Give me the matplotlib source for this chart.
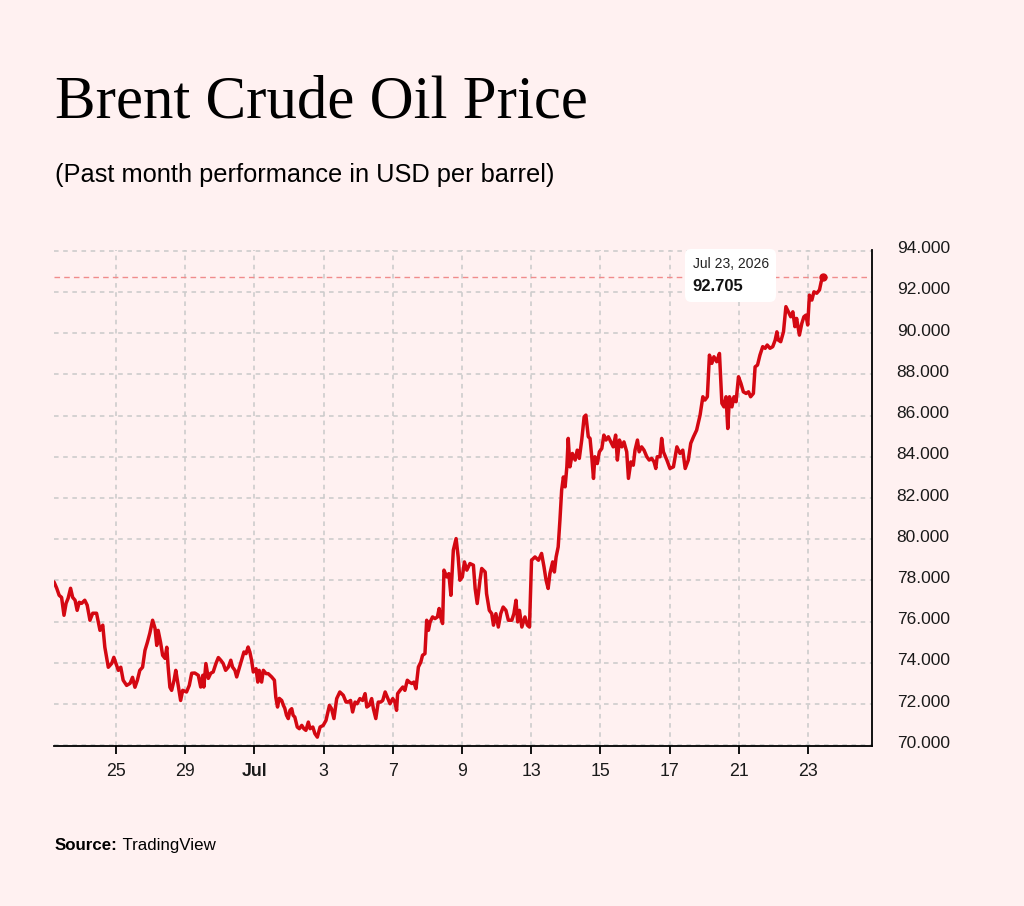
import matplotlib
matplotlib.use('Agg')
import matplotlib.pyplot as plt
from matplotlib.offsetbox import TextArea, VPacker, AnnotationBbox
from matplotlib.patches import Polygon
from matplotlib import transforms

plt.rcParams['font.family'] = ['Liberation Sans', 'DejaVu Sans']

# ---------------- data ----------------
# time in trading days since the Jun 23 session start (weekends compressed)
day_offset = [
    0.21, 0.29, 0.36, 0.43, 0.50, 0.56, 0.62, 0.69, 0.75, 0.82,
    0.88, 0.94, 1.01, 1.10, 1.17, 1.25, 1.33, 1.44, 1.54, 1.62,
    1.68, 1.78, 1.88, 1.94, 2.00, 2.07, 2.14, 2.21, 2.31, 2.41,
    2.48, 2.55, 2.62, 2.69, 2.77, 2.84, 2.91, 2.98, 3.06, 3.13,
    3.18, 3.22, 3.29, 3.35, 3.42, 3.47, 3.51, 3.56, 3.61, 3.68,
    3.73, 3.80, 3.87, 3.93,
    4.04, 4.12, 4.19, 4.28, 4.38, 4.45, 4.51, 4.54, 4.60, 4.67,
    4.74, 4.81, 4.89, 4.96, 5.03, 5.10, 5.17, 5.25, 5.32, 5.37,
    5.44, 5.49, 5.56, 5.63, 5.70, 5.76, 5.82, 5.87, 5.92, 5.97,
    6.05, 6.10, 6.14, 6.21, 6.26, 6.34, 6.40, 6.50, 6.58, 6.62,
    6.67, 6.72, 6.79, 6.84, 6.88, 6.93, 6.98, 7.03, 7.08, 7.12,
    7.17, 7.24, 7.30, 7.37, 7.43, 7.49, 7.56, 7.61, 7.69, 7.75,
    7.82,
    7.90, 7.99, 8.07, 8.17, 8.23, 8.30, 8.38, 8.47, 8.57, 8.65,
    8.71, 8.78, 8.84, 8.91, 8.97, 9.05, 9.13, 9.20, 9.25, 9.32,
    9.39, 9.44, 9.51, 9.58, 9.65, 9.71, 9.78, 9.84, 9.92, 10.00,
    10.06, 10.11, 10.14, 10.21, 10.29, 10.35, 10.42, 10.48, 10.55, 10.61,
    10.67, 10.74, 10.81, 10.86, 10.93, 10.98, 11.03, 11.08, 11.15, 11.22,
    11.29, 11.34, 11.38, 11.44,
    11.48, 11.56, 11.62, 11.68, 11.75, 11.83, 11.89, 11.94, 12.01, 12.07,
    12.14, 12.23, 12.33, 12.38, 12.44, 12.52, 12.57, 12.67, 12.71, 12.79,
    12.86, 12.91, 12.98, 13.05, 13.12, 13.19, 13.27, 13.34, 13.44, 13.50,
    13.56, 13.61, 13.66, 13.73, 13.82, 13.89, 13.95, 14.01, 14.11, 14.21,
    14.30, 14.37, 14.43, 14.49, 14.54, 14.62, 14.67, 14.72, 14.78, 14.83,
    14.88, 14.93, 14.98, 15.03, 15.07, 15.12, 15.19, 15.27, 15.33, 15.39,
    15.46, 15.53, 15.58, 15.65, 15.70, 15.75, 15.80, 15.84, 15.91, 15.97,
    16.04, 16.10, 16.16, 16.23, 16.30, 16.37, 16.44, 16.49, 16.55, 16.62,
    16.68, 16.76, 16.81, 16.88, 16.95, 17.00, 17.07, 17.12, 17.19, 17.26,
    17.34, 17.41, 17.48, 17.55, 17.60, 17.64, 17.72,
    17.77, 17.82, 17.92, 18.01, 18.11, 18.21, 18.30, 18.38, 18.45, 18.54,
    18.61, 18.69, 18.78, 18.88, 18.96, 19.02, 19.09, 19.15, 19.22, 19.28,
    19.36, 19.44, 19.51, 19.57, 19.63, 19.68, 19.73, 19.80, 19.86, 19.92,
    19.99, 20.06, 20.13, 20.21, 20.28, 20.34, 20.42, 20.47, 20.54, 20.61,
    20.69, 20.76, 20.82, 20.90, 20.98, 21.05, 21.10, 21.14, 21.21, 21.29,
    21.36, 21.43, 21.50, 21.56, 21.62, 21.67, 21.75, 21.82, 21.88, 21.94,
    21.99, 22.04, 22.11, 22.17, 22.25, 22.33, 22.38, 22.43,
]

price = [
    77.93, 77.62, 77.28, 77.18, 76.31, 76.89, 77.14, 77.62, 77.18, 77.04,
    76.55, 76.94, 76.89, 77.04, 76.80, 76.07, 76.41, 76.41, 75.58, 75.83,
    74.76, 73.79, 73.98, 74.27, 73.98, 73.64, 73.79, 73.16, 72.91, 73.01,
    73.30, 72.82, 73.16, 73.64, 73.79, 74.61, 75.00, 75.44, 76.07, 75.68,
    74.85, 75.58, 75.00, 74.37, 74.22, 74.76, 73.79, 72.82, 72.67, 73.16,
    73.64, 72.91, 72.18, 72.67,
    72.59, 72.91, 73.50, 73.51, 73.40, 72.83, 73.40, 72.83, 73.97, 73.25,
    73.50, 73.56, 73.97, 74.26, 74.13, 73.97, 73.64, 73.80, 74.13, 73.80,
    73.64, 73.32, 73.72, 74.13, 74.53, 74.45, 74.77, 74.53, 74.13, 73.56,
    73.72, 73.07, 73.64, 73.07, 73.64, 73.48, 73.48, 73.32, 73.16, 72.34,
    71.86, 72.28, 72.18, 71.94, 71.80, 71.46, 71.30, 71.70, 71.78, 71.46,
    71.37, 70.89, 70.81, 70.97, 70.81, 70.73, 71.13, 70.81, 70.89, 70.57,
    70.40,
    70.89, 70.97, 71.21, 71.94, 71.78, 71.30, 72.27, 72.59, 72.43, 72.10,
    72.10, 72.18, 71.62, 72.10, 72.02, 72.27, 72.18, 72.51, 71.86, 71.94,
    72.27, 71.78, 71.30, 72.10, 72.10, 72.18, 72.59, 72.34, 72.02, 72.27,
    72.10, 71.70, 72.51, 72.67, 72.83, 72.67, 73.16, 73.07, 73.00, 73.07,
    72.75, 73.80, 74.04, 74.37, 74.45, 76.07, 75.58, 75.99, 76.23, 76.15,
    76.23, 76.64, 76.23, 75.91,
    78.50, 78.17, 78.33, 77.28, 79.47, 80.03, 79.14, 78.01, 78.17, 78.90,
    78.50, 78.82, 78.74, 77.61, 76.88, 78.01, 78.58, 78.41, 77.36, 76.55,
    76.39, 75.83, 76.39, 75.74, 76.39, 76.71, 76.55, 76.07, 76.07, 76.39,
    77.04, 75.99, 76.55, 75.74, 76.23, 75.83, 75.74, 78.98, 79.14, 78.98,
    79.31, 78.66, 78.01, 77.61, 78.33, 78.90, 78.41, 79.14, 79.63, 80.92,
    82.38, 83.02, 82.54, 83.51, 84.89, 83.51, 84.16, 83.84, 84.32, 83.92,
    84.81, 85.94, 86.02, 84.97, 84.89, 84.00, 82.95, 84.00, 83.67, 84.24,
    84.40, 85.05, 84.81, 84.97, 84.72, 84.48, 85.05, 83.84, 84.81, 84.48,
    84.72, 84.24, 82.95, 83.75, 83.59, 84.32, 84.81, 84.24, 84.48, 84.32,
    84.00, 83.84, 83.92, 83.75, 83.43, 84.00, 84.00,
    84.89, 84.24, 83.84, 83.43, 83.51, 84.48, 84.16, 84.32, 83.43, 83.84,
    84.65, 84.97, 85.29, 86.02, 86.91, 86.75, 86.91, 88.93, 88.53, 88.85,
    88.61, 89.01, 86.59, 86.42, 86.91, 85.37, 86.91, 86.42, 86.91, 86.67,
    87.88, 87.56, 87.15, 87.07, 87.15, 86.91, 87.07, 88.36, 88.45, 88.93,
    89.34, 89.26, 89.42, 89.26, 89.34, 89.66, 90.06, 89.66, 89.58, 90.06,
    91.28, 91.03, 90.79, 91.03, 90.31, 90.71, 89.90, 90.47, 90.79, 90.87,
    90.39, 91.84, 91.60, 92.00, 91.93, 92.09, 92.49, 92.705,
]

tick_days = [2, 4, 6, 8, 10, 12, 14, 16, 18, 20, 22]
tick_labels = ['25', '29', 'Jul', '3', '7', '9', '13', '15', '17', '21', '23']
bold_labels = ['Jul']
y_ticks = [70, 72, 74, 76, 78, 80, 82, 84, 86, 88, 90, 92, 94]
last_date_label = 'Jul 23, 2026'

title = 'Brent Crude Oil Price'
subtitle = '(Past month performance in USD per barrel)'
source_bold = 'Source:'
source_text = ' TradingView'

# ---------------- style ----------------
BG = '#FFF1F1'
RED = '#D40812'
GRID = '#C9C9C9'
TXT = '#1A1A1A'

fig = plt.figure(figsize=(10.24, 9.06), dpi=100, facecolor=BG)
ax = fig.add_axes([0.0527, 0.1766, 0.7986, 0.5475], facecolor=BG)

n = min(len(day_offset), len(price))
ax.plot(day_offset[:n], price[:n], color=RED, lw=2.5,
        solid_joinstyle='round', solid_capstyle='round', zorder=3)

last_t, last_p = day_offset[n - 1], price[n - 1]
ax.axhline(last_p, color='#F08C8C', lw=1, ls=(0, (4, 3)), zorder=2)
ax.plot([last_t], [last_p], 'o', color=RED, ms=5, zorder=4)

ax.set_xlim(0.21, 23.84)
ax.set_ylim(69.97, 94.03)

ax.set_xticks(tick_days)
ax.set_xticklabels(tick_labels)
for lab in ax.get_xticklabels():
    if lab.get_text() in bold_labels:
        lab.set_fontweight('bold')
ax.tick_params(axis='x', direction='out', length=6, width=1.3,
               color='black', pad=6.5, labelsize=12.8, labelcolor=TXT)

ax.set_yticks(y_ticks)
ax.set_yticklabels([f'{v:.3f}' for v in y_ticks])
ax.yaxis.tick_right()
ax.tick_params(axis='y', length=0, pad=18, labelsize=12.5, labelcolor=TXT)
off = transforms.ScaledTranslation(0, 2.5 / 72, fig.dpi_scale_trans)
for lab in ax.get_yticklabels():
    lab.set_transform(lab.get_transform() + off)

ax.grid(True, color=GRID, lw=1.1, ls=(0, (3, 3)))
ax.set_axisbelow(True)

for s in ['left', 'top']:
    ax.spines[s].set_visible(False)
for s in ['right', 'bottom']:
    ax.spines[s].set_linewidth(1.3)
    ax.spines[s].set_color('black')

# tooltip
ta1 = TextArea(last_date_label, textprops=dict(fontsize=10, color='#222222'))
ta2 = TextArea(f'{last_p:.3f}', textprops=dict(fontsize=12, fontweight='bold',
                                                color='#111111'))
vp = VPacker(children=[ta1, ta2], align='left', pad=0, sep=6)
ab = AnnotationBbox(vp, (last_t, last_p), xybox=(-39, 1.5), xycoords='data',
                    boxcoords='offset points', box_alignment=(1, 0.5),
                    frameon=True,
                    bboxprops=dict(boxstyle='round,pad=0.55,rounding_size=0.45',
                                   fc='white', ec='none'),
                    zorder=5)
ax.add_artist(ab)
# small pointer on the right of the tooltip
ptr_trans = fig.dpi_scale_trans + transforms.ScaledTranslation(
    last_t, last_p, ax.transData)
ax.add_patch(Polygon([(-0.622, 0.075), (-0.565, 0.021), (-0.622, -0.033)],
                     closed=True, fc='white', ec='none', zorder=5,
                     transform=ptr_trans, clip_on=False))

# texts
fig.text(55 / 1024, 1 - 118 / 906, title, fontsize=43.8,
         family=['Liberation Serif', 'DejaVu Serif'], color='black',
         va='baseline', ha='left')
fig.text(55 / 1024, 1 - 182 / 906, subtitle, fontsize=18.3, color='black',
         va='baseline', ha='left')
t1 = fig.text(55 / 1024, 1 - 850 / 906, source_bold, fontsize=12.2,
              fontweight='bold', color='black', va='baseline', ha='left')
t2 = fig.text(0, 1 - 850 / 906, source_text, fontsize=12.2, color='black',
              va='baseline', ha='left')
fig.canvas.draw()
bb = t1.get_window_extent()
t2.set_position((bb.x1 / fig.bbox.width, 1 - 850 / 906))

fig.savefig('out.png', dpi=100, facecolor=BG)
